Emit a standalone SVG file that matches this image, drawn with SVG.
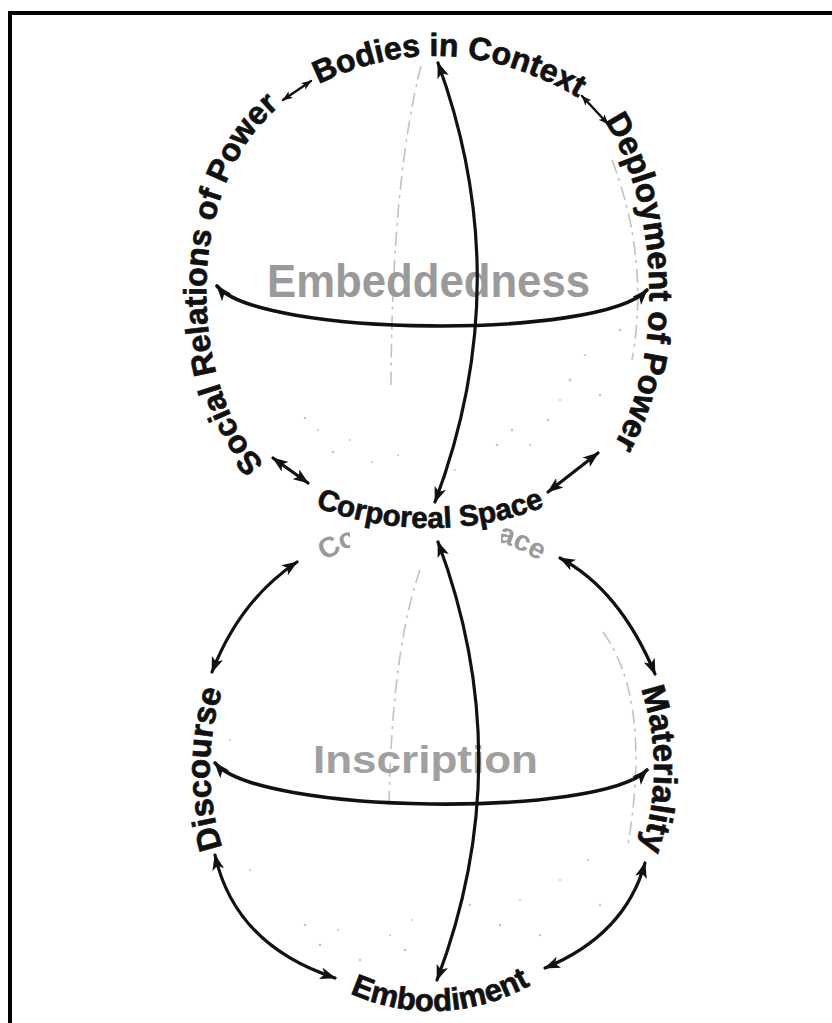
<svg xmlns="http://www.w3.org/2000/svg" width="832" height="1023" viewBox="0 0 832 1023">
<style>
.lbl{font-family:"Liberation Sans",Arial,Helvetica,sans-serif;font-weight:bold;fill:#111;stroke:#111;stroke-width:0.7}
.big{font-family:"Liberation Sans",Arial,Helvetica,sans-serif;font-weight:bold;fill:#9a9a9a}
.conn{fill:none;stroke:#111;stroke-width:3.2;stroke-linecap:round}
.faint{fill:none;stroke:#c2c2c2;stroke-width:1.6;stroke-dasharray:14 5 3 6}
.spk{fill:#c4c4c4}
</style>
<defs>
<marker id="a" viewBox="0 0 16 12" refX="15" refY="6" markerWidth="16" markerHeight="12" markerUnits="userSpaceOnUse" orient="auto-start-reverse">
<path d="M0,0 L16,6 L0,12 L4,6 Z" fill="#111"/>
</marker>
<marker id="s" viewBox="0 0 10 8" refX="9.5" refY="4" markerWidth="10" markerHeight="8" markerUnits="userSpaceOnUse" orient="auto-start-reverse">
<path d="M0,0 L10,4 L0,8 L2.5,4 Z" fill="#111"/>
</marker>
<path id="pTop" d="M290,100 Q440,8 595,108"/>
<path id="pLeft" d="M272,470 C184,400 174,160 306,88"/>
<path id="pRight" d="M560,75 C672,150 677,400 585,480"/>
<path id="pCorp" d="M250,472.6 A320,320 0 0 0 610,472.6"/>
<path id="pGhost" d="M227.1,687.3 A218,239 0 0 1 636.9,687.3"/>
<path id="pDisc" d="M262,922.6 A222,239 0 0 1 262,615.4"/>
<path id="pMat" d="M602,615.4 A222,239 0 0 1 602,922.6"/>
<path id="pEmb" d="M291.9,955.1 A218,239 0 0 0 572.1,955.1"/>
<clipPath id="ghostClip">
<rect x="300" y="515" width="50" height="60"/>
<rect x="501" y="515" width="80" height="60"/>
</clipPath>
</defs>
<rect x="0" y="0" width="832" height="1023" fill="#fff"/>
<path d="M10,1023 V13 H832" fill="none" stroke="#000" stroke-width="4"/>

<g id="background-marks">
<path class="faint" d="M421,66 Q392,180 391,385"/>
<path class="faint" d="M420,570 Q392,650 389,805"/>
<path class="faint" d="M612,160 Q650,260 632,360"/>
<path class="faint" d="M603,632 Q652,700 628,845"/>
<g class="spk">
<circle cx="305" cy="418" r="1.2"/><circle cx="318" cy="430" r="1"/><circle cx="333" cy="452" r="1.3"/><circle cx="350" cy="440" r="1"/>
<circle cx="372" cy="462" r="1.1"/><circle cx="398" cy="455" r="1"/><circle cx="497" cy="445" r="1.2"/><circle cx="512" cy="430" r="1.3"/>
<circle cx="530" cy="445" r="1"/><circle cx="548" cy="420" r="1.2"/><circle cx="570" cy="380" r="1.4"/><circle cx="585" cy="355" r="1.1"/>
<circle cx="600" cy="395" r="1.2"/><circle cx="560" cy="400" r="1"/><circle cx="620" cy="330" r="1.3"/><circle cx="455" cy="470" r="1"/>
<circle cx="305" cy="925" r="1.2"/><circle cx="320" cy="945" r="1.3"/><circle cx="338" cy="930" r="1"/><circle cx="360" cy="960" r="1.2"/>
<circle cx="390" cy="935" r="1"/><circle cx="405" cy="950" r="1.3"/><circle cx="412" cy="920" r="1"/><circle cx="470" cy="905" r="1.2"/>
<circle cx="500" cy="925" r="1.3"/><circle cx="520" cy="900" r="1"/><circle cx="540" cy="935" r="1.2"/><circle cx="560" cy="880" r="1"/>
<circle cx="588" cy="860" r="1.1"/><circle cx="600" cy="905" r="1.2"/><circle cx="250" cy="870" r="1"/><circle cx="230" cy="740" r="1"/>
</g>
</g>

<g id="ghost-label" clip-path="url(#ghostClip)">
<text class="lbl" style="fill:#9a9a9a;stroke:none" font-size="28.5"><textPath href="#pGhost" startOffset="50%" text-anchor="middle">Corporeal Space</textPath></text>
</g>

<g id="sphere-embeddedness">
<text class="big" x="267" y="297" font-size="46" textLength="323" lengthAdjust="spacingAndGlyphs">Embeddedness</text>
</g>
<g id="sphere-inscription">
<text class="big" x="313" y="773" font-size="38" textLength="225" lengthAdjust="spacingAndGlyphs" style="fill:#a0a0a0">Inscription</text>
</g>

<g id="connectors">
<path class="conn" d="M438,63 Q518,282 435,502" marker-start="url(#a)" marker-end="url(#a)"/>
<path class="conn" style="stroke-width:3.6" d="M217,286 C260,337 600,340 647,290" marker-start="url(#a)" marker-end="url(#a)"/>
<path class="conn" d="M438,542 Q520,761 437,980" marker-start="url(#a)" marker-end="url(#a)"/>
<path class="conn" style="stroke-width:3.6" d="M215,763 C260,815 600,818 647,770" marker-start="url(#a)" marker-end="url(#a)"/>
<path class="conn" style="stroke-width:2.4" d="M283,100 L311,81" marker-start="url(#s)" marker-end="url(#s)"/>
<path class="conn" style="stroke-width:2.4" d="M582,96 L608,124" marker-start="url(#s)" marker-end="url(#s)"/>
<path class="conn" d="M273,458 L308,483" marker-start="url(#a)" marker-end="url(#a)"/>
<path class="conn" d="M598,453 L548,492" marker-start="url(#a)" marker-end="url(#a)"/>
<path class="conn" d="M297,562 Q240,600 212,672" marker-start="url(#a)" marker-end="url(#a)"/>
<path class="conn" d="M560,558 Q620,590 655,674" marker-start="url(#a)" marker-end="url(#a)"/>
<path class="conn" d="M215,855 Q235,945 335,978" marker-start="url(#a)" marker-end="url(#a)"/>
<path class="conn" d="M645,863 Q625,935 545,968" marker-start="url(#a)" marker-end="url(#a)"/>
</g>

<g id="node-bodies-in-context">
<text class="lbl" font-size="32"><textPath href="#pTop" startOffset="52%" text-anchor="middle">Bodies in Context</textPath></text>
</g>
<g id="node-social-relations">
<text class="lbl" font-size="32"><textPath href="#pLeft" startOffset="10">Social Relations of Power</textPath></text>
</g>
<g id="node-deployment">
<text class="lbl" font-size="33"><textPath href="#pRight" startOffset="64">Deployment of Power</textPath></text>
</g>
<g id="node-corporeal-space">
<text class="lbl" font-size="29.5"><textPath href="#pCorp" startOffset="50%" text-anchor="middle">Corporeal Space</textPath></text>
</g>
<g id="node-discourse">
<text class="lbl" font-size="33"><textPath href="#pDisc" startOffset="50%" text-anchor="middle">Discourse</textPath></text>
</g>
<g id="node-materiality">
<text class="lbl" font-size="33"><textPath href="#pMat" startOffset="50%" text-anchor="middle">Materiality</textPath></text>
</g>
<g id="node-embodiment">
<text class="lbl" font-size="31"><textPath href="#pEmb" startOffset="53%" text-anchor="middle">Embodiment</textPath></text>
</g>
</svg>
